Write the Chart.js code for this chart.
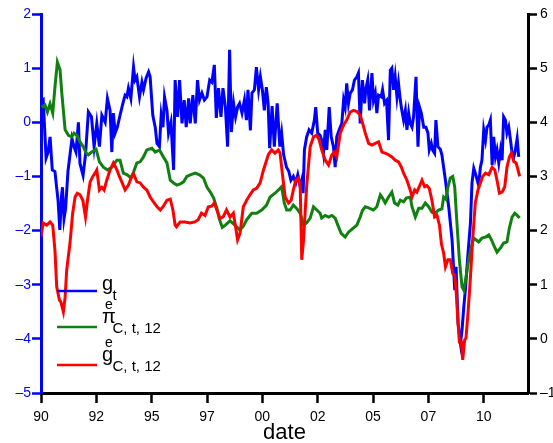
<!DOCTYPE html>
<html>
<head>
<meta charset="utf-8">
<script src="https://cdn.jsdelivr.net/npm/chart.js@4"></script>
<style>
  html, body { margin: 0; padding: 0; background: #fff; }
</style>
</head>
<body>
<canvas id="chart" width="553" height="443"></canvas>
<script>
// tick positions on the date axis (labels are the two-digit year)
const tickYears = [1990, 1992.5, 1995, 1997.5, 2000, 2002.5, 2005, 2007.5, 2010];

// g_t (left axis)
const blueDates = [
  1990.03, 1990.10, 1990.23, 1990.32, 1990.41, 1990.51, 1990.63, 1990.77, 1990.85, 1990.93,
  1990.97, 1991.04, 1991.11, 1991.22, 1991.31, 1991.40, 1991.49, 1991.58, 1991.69, 1991.76,
  1991.90, 1992.01, 1992.14, 1992.28, 1992.40, 1992.52, 1992.64, 1992.75, 1992.90, 1993.00,
  1993.12, 1993.20, 1993.27, 1993.35, 1993.45, 1993.57, 1993.70, 1993.80, 1993.88, 1993.95,
  1994.06, 1994.18, 1994.25, 1994.33, 1994.45, 1994.56, 1994.63, 1994.75, 1994.86, 1994.93,
  1995.05, 1995.16, 1995.24, 1995.35, 1995.43, 1995.51, 1995.58, 1995.69, 1995.76, 1995.87,
  1995.99, 1996.06, 1996.17, 1996.26, 1996.37, 1996.47, 1996.56, 1996.67, 1996.74, 1996.86,
  1996.97, 1997.07, 1997.16, 1997.27, 1997.38, 1997.50, 1997.62, 1997.72, 1997.83, 1997.92,
  1998.02, 1998.13, 1998.22, 1998.33, 1998.43, 1998.52, 1998.60, 1998.70, 1998.79, 1998.88,
  1998.97, 1999.08, 1999.19, 1999.28, 1999.35, 1999.46, 1999.53, 1999.64, 1999.73, 1999.83,
  1999.91, 2000.00, 2000.09, 2000.18, 2000.26, 2000.33, 2000.44, 2000.54, 2000.67, 2000.79,
  2000.87, 2000.96, 2001.09, 2001.19, 2001.29, 2001.40, 2001.51, 2001.60, 2001.71, 2001.78,
  2001.84, 2001.90, 2002.00, 2002.11, 2002.23, 2002.35, 2002.41, 2002.50, 2002.61, 2002.68,
  2002.76, 2002.84, 2002.91, 2003.02, 2003.11, 2003.21, 2003.29, 2003.36, 2003.47, 2003.59,
  2003.67, 2003.74, 2003.81, 2003.89, 2003.97, 2004.07, 2004.16, 2004.27, 2004.34, 2004.42,
  2004.52, 2004.62, 2004.67, 2004.76, 2004.84, 2004.95, 2005.02, 2005.10, 2005.17, 2005.25,
  2005.37, 2005.43, 2005.52, 2005.61, 2005.70, 2005.78, 2005.85, 2005.93, 2006.00, 2006.08,
  2006.15, 2006.23, 2006.30, 2006.38, 2006.46, 2006.53, 2006.61, 2006.68, 2006.76, 2006.83,
  2006.94, 2007.03, 2007.10, 2007.18, 2007.29, 2007.39, 2007.48, 2007.54, 2007.63, 2007.69,
  2007.78, 2007.84, 2007.93, 2008.04, 2008.11, 2008.27, 2008.42, 2008.57, 2008.69, 2008.75,
  2008.84, 2008.95, 2009.02, 2009.10, 2009.17, 2009.29, 2009.40, 2009.47, 2009.55, 2009.62,
  2009.74, 2009.81, 2009.85, 2009.92, 2010.00, 2010.08, 2010.15, 2010.23, 2010.30, 2010.38,
  2010.45, 2010.53, 2010.60, 2010.68, 2010.76, 2010.83, 2010.90, 2010.98, 2011.05, 2011.13,
  2011.21, 2011.28, 2011.36, 2011.43, 2011.51, 2011.58
];
const blueValues = [
  0.38, 0.41, -0.66, -0.55, -0.27, -0.88, -0.91, -1.44, -1.99, -1.35,
  -1.2, -1.78, -1.6, -0.9, -0.6, -0.3, -0.45, -0.55, 0.0, -0.76,
  -0.98, -0.6, 0.19, 0.1, -0.45, -0.02, -0.45, 0.13, 0.0, 0.44,
  0.22, -0.55, 0.17, -0.2, -0.09, 0.13, 0.35, 0.5, 0.47, 0.63,
  0.44, 1.02, 0.78, 0.84, 0.47, 0.74, 0.6, 0.82, 0.93, 0.84,
  0.13, -0.09, -0.39, -0.45, 0.13, -0.09, 0.47, 0.22, -0.2, 0.0,
  -0.88, 0.78, 0.1, 0.78, -0.02, 0.41, -0.09, 0.44, -0.02, 0.5,
  -0.02, 0.78, 0.41, 0.54, 0.41, 0.47, 0.78, 0.74, 1.06, 0.08,
  0.63, 0.1, 0.63, 0.28, -0.45, 1.34, -0.18, 0.35, 0.1, 0.28,
  0.35, 0.17, 0.41, 0.04, 0.6, -0.15, 0.54, 0.6, 1.02, 0.6,
  0.84, 0.6, 0.22, 0.65, 0.35, -0.48, 0.3, -0.45, 0.35, -0.45,
  -0.2, -0.6, -0.83, -0.9, -1.07, -1.0, -1.12, -0.97, -1.19, -1.07,
  -1.31, -0.51, -0.27, -0.14, -0.2, 0.04, 0.28, -0.2, -0.24, -0.33,
  -0.57, -0.14, -0.51, 0.28, -0.27, -0.45, -0.83, -0.27, -0.14, -0.02,
  0.41, 0.28, 0.72, 0.35, 0.54, 0.6, 0.78, 0.84, 0.91, -0.02,
  0.78, 0.35, 0.6, 0.78, 0.22, 0.91, 0.41, 0.54, 0.17, 0.5,
  0.47, 0.6, 0.35, 0.4, -0.33, 0.96, 1.0, 0.6, 0.84, 0.47,
  0.72, 0.41, 0.22, 0.04, 0.22, -0.14, 0.17, -0.02, -0.09, 0.1,
  0.84, -0.45, 0.28, 0.17, -0.09, -0.09, -0.2, -0.51, -0.39, -0.51,
  -0.57, 0.04, -0.45, -0.5, -0.6, -1.07, -1.57, -2.17, -3.1, -2.67,
  -3.71, -4.08, -3.84, -3.41, -3.1, -2.42, -1.86, -1.12, -0.85, -0.94,
  -1.12, -1.0, -0.83, -0.7, -0.14, -0.33, -0.09, -0.05, 0.04, -0.79,
  -0.27, -0.64, -0.51, -0.75, -0.51, -0.7, 0.1, 0.04, -0.2, -0.09,
  -0.33, -0.57, -0.64, -0.51, -0.3, -0.64
];

// pi^e_{C,t,12} (right axis)
const greenDates = [
  1990.03, 1990.18, 1990.29, 1990.41, 1990.53, 1990.63, 1990.74, 1990.86, 1990.94, 1991.09,
  1991.24, 1991.39, 1991.49, 1991.62, 1991.76, 1991.91, 1992.04, 1992.14, 1992.29, 1992.49,
  1992.64, 1992.82, 1993.00, 1993.20, 1993.43, 1993.57, 1993.72, 1993.90, 1994.06, 1994.18,
  1994.33, 1994.48, 1994.63, 1994.78, 1995.01, 1995.16, 1995.35, 1995.53, 1995.69, 1995.84,
  1995.99, 1996.14, 1996.29, 1996.44, 1996.59, 1996.74, 1996.97, 1997.16, 1997.34, 1997.50,
  1997.65, 1997.80, 1997.94, 1998.05, 1998.19, 1998.33, 1998.54, 1998.76, 1998.99, 1999.14,
  1999.29, 1999.52, 1999.74, 1999.97, 2000.19, 2000.35, 2000.57, 2000.80, 2000.87, 2000.99,
  2001.10, 2001.25, 2001.40, 2001.55, 2001.71, 2001.86, 2002.00, 2002.16, 2002.31, 2002.46,
  2002.61, 2002.68, 2002.84, 2002.99, 2003.14, 2003.29, 2003.41, 2003.56, 2003.74, 2003.89,
  2004.12, 2004.27, 2004.42, 2004.52, 2004.65, 2004.80, 2005.02, 2005.17, 2005.33, 2005.43,
  2005.55, 2005.70, 2005.85, 2005.97, 2006.12, 2006.23, 2006.38, 2006.50, 2006.68, 2006.76,
  2006.91, 2007.06, 2007.21, 2007.36, 2007.51, 2007.66, 2007.81, 2007.96, 2008.11, 2008.19,
  2008.29, 2008.38, 2008.49, 2008.60, 2008.69, 2008.79, 2008.90, 2009.02, 2009.10, 2009.20,
  2009.32, 2009.44, 2009.55, 2009.65, 2009.77, 2009.92, 2010.08, 2010.23, 2010.35, 2010.45,
  2010.60, 2010.76, 2010.90, 2011.05, 2011.16, 2011.28, 2011.40, 2011.51, 2011.62
];
const greenValues = [
  4.28, 4.32, 4.19, 4.34, 4.17, 4.65, 5.11, 4.97, 4.54, 3.86,
  3.76, 3.73, 3.8, 3.76, 3.64, 3.55, 3.43, 3.4, 3.45, 3.5,
  3.27, 3.17, 3.12, 3.17, 3.3, 3.3, 3.06, 3.03, 2.97, 3.08,
  3.25, 3.27, 3.36, 3.49, 3.52, 3.45, 3.49, 3.36, 3.25, 2.93,
  2.88, 2.84, 2.86, 2.9, 3.0, 3.03, 3.06, 3.03, 2.97, 2.8,
  2.71, 2.6, 2.42, 2.22, 2.06, 2.1, 2.18, 2.1, 2.01, 2.08,
  2.2, 2.32, 2.32, 2.38, 2.47, 2.62, 2.69, 2.78, 2.81, 2.51,
  2.38, 2.38, 2.47, 2.41, 2.32, 2.1, 2.14, 2.23, 2.44, 2.38,
  2.32, 2.23, 2.28, 2.25, 2.28, 2.23, 2.1, 1.95, 1.88, 1.97,
  2.05, 2.1, 2.25, 2.37, 2.44, 2.42, 2.38, 2.44, 2.66, 2.6,
  2.51, 2.62, 2.71, 2.51, 2.47, 2.56, 2.53, 2.6, 2.62, 2.44,
  2.25, 2.41, 2.41, 2.51, 2.44, 2.34, 2.32, 2.38, 2.4, 2.62,
  2.58, 2.8, 2.97, 3.0, 2.8, 2.14, 1.46, 0.96, 0.9, 1.14,
  1.46, 1.7, 1.86, 1.83, 1.79, 1.86, 1.88, 1.92, 1.83, 1.73,
  1.6, 1.68, 1.77, 1.79, 2.05, 2.25, 2.32, 2.28, 2.23
];

// g^e_{C,t,12} (right axis)
const redDates = [
  1990.00, 1990.10, 1990.26, 1990.41, 1990.53, 1990.63, 1990.71, 1990.83, 1990.90, 1991.01,
  1991.09, 1991.16, 1991.31, 1991.43, 1991.54, 1991.64, 1991.76, 1991.89, 1992.01, 1992.10,
  1992.22, 1992.34, 1992.44, 1992.52, 1992.64, 1992.75, 1992.85, 1992.97, 1993.12, 1993.27,
  1993.43, 1993.54, 1993.65, 1993.80, 1993.95, 1994.07, 1994.18, 1994.33, 1994.48, 1994.63,
  1994.78, 1994.93, 1995.08, 1995.24, 1995.39, 1995.53, 1995.69, 1995.84, 1995.96, 1996.06,
  1996.12, 1996.29, 1996.50, 1996.73, 1996.95, 1997.10, 1997.25, 1997.41, 1997.56, 1997.71,
  1997.83, 1997.93, 1998.09, 1998.24, 1998.38, 1998.54, 1998.69, 1998.79, 1998.88, 1998.99,
  1999.14, 1999.29, 1999.44, 1999.59, 1999.74, 1999.90, 2000.05, 2000.19, 2000.27, 2000.42,
  2000.57, 2000.72, 2000.80, 2000.90, 2001.03, 2001.18, 2001.30, 2001.40, 2001.51, 2001.63,
  2001.71, 2001.78, 2001.86, 2002.00, 2002.16, 2002.31, 2002.46, 2002.57, 2002.68, 2002.84,
  2002.99, 2003.14, 2003.26, 2003.36, 2003.52, 2003.67, 2003.81, 2003.97, 2004.12, 2004.27,
  2004.42, 2004.49, 2004.65, 2004.80, 2004.95, 2005.10, 2005.25, 2005.40, 2005.55, 2005.70,
  2005.85, 2006.00, 2006.15, 2006.28, 2006.38, 2006.53, 2006.68, 2006.76, 2006.88, 2006.98,
  2007.09, 2007.21, 2007.33, 2007.43, 2007.54, 2007.66, 2007.78, 2007.89, 2008.00, 2008.09,
  2008.19, 2008.27, 2008.38, 2008.49, 2008.60, 2008.69, 2008.75, 2008.84, 2008.90, 2008.99,
  2009.05, 2009.14, 2009.20, 2009.29, 2009.40, 2009.50, 2009.62, 2009.74, 2009.85, 2009.95,
  2010.08, 2010.23, 2010.38, 2010.50, 2010.60, 2010.71, 2010.83, 2010.95, 2011.05, 2011.16,
  2011.25, 2011.36, 2011.46, 2011.55, 2011.62
];
const redValues = [
  1.89, 2.14, 2.1, 2.16, 2.1, 1.64, 0.96, 0.72, 0.68, 0.5,
  0.77, 1.27, 1.77, 2.32, 2.62, 2.69, 2.66, 2.56, 2.25, 2.56,
  2.9, 3.0, 3.06, 3.12, 2.75, 2.8, 2.75, 2.93, 3.12, 3.25,
  3.12, 3.0, 2.9, 2.75, 2.84, 2.97, 3.05, 2.9, 2.88, 2.8,
  2.75, 2.62, 2.53, 2.44, 2.38, 2.45, 2.56, 2.58, 2.38, 2.1,
  2.07, 2.16, 2.16, 2.14, 2.16, 2.2, 2.32, 2.28, 2.44, 2.45,
  2.51, 2.4, 2.22, 2.26, 2.38, 2.25, 2.32, 2.07, 1.83, 1.95,
  2.44, 2.56, 2.66, 2.75, 2.78, 2.88, 3.12, 3.3, 3.4, 3.49,
  3.43, 3.49, 3.43, 3.06, 2.62, 2.51, 2.56, 2.75, 2.93, 2.97,
  2.81, 1.46, 1.83, 2.81, 3.55, 3.73, 3.76, 3.67, 3.49, 3.3,
  3.21, 3.4, 3.45, 3.36, 3.8, 3.95, 4.04, 4.19, 4.22, 4.2,
  4.13, 4.04, 3.8, 3.61, 3.58, 3.61, 3.64, 3.45, 3.43, 3.4,
  3.36, 3.3, 3.27, 3.17, 3.06, 2.93, 2.75, 2.62, 2.75, 2.71,
  2.81, 2.93, 2.81, 2.83, 2.78, 2.56, 2.25, 2.28, 2.1, 1.75,
  1.58, 1.33, 1.46, 1.46, 1.21, 1.18, 0.9, 0.29, -0.06, -0.06,
  -0.39, -0.02, 0.02, 0.48, 1.14, 1.83, 2.51, 2.75, 2.88, 3.0,
  3.06, 3.03, 3.17, 3.12, 2.93, 2.69, 2.71, 2.81, 3.17, 3.36,
  3.43, 3.27, 3.25, 3.12, 3.0
];

const BLUE = '#0000ff';
const GREEN = '#108010';
const RED = '#ff0000';
const FONT = '"Liberation Sans", Arial, Helvetica, sans-serif';

function pairs(xs, ys) {
  return xs.map((x, i) => ({ x: x, y: ys[i] }));
}

function dashMinus(v) {
  return v < 0 ? '\u2013' + Math.abs(v) : String(v);
}

// legend with sub/superscripts, drawn inside the plot at lower left
const mathLegend = {
  id: 'mathLegend',
  afterDraw(chart) {
    const ctx = chart.ctx;
    const items = [
      { color: BLUE, line: 291, base: 'g', baseY: 290, sup: '', supY: 0, sub: 't', subY: 300 },
      { color: GREEN, line: 327, base: '\u03c0', baseY: 323, sup: 'e', supY: 309, sub: 'C, t, 12', subY: 333 },
      { color: RED, line: 365, base: 'g', baseY: 361, sup: 'e', supY: 347, sub: 'C, t, 12', subY: 370.5 }
    ];
    ctx.save();
    ctx.fillStyle = '#000';
    ctx.textBaseline = 'alphabetic';
    ctx.textAlign = 'left';
    items.forEach(it => {
      ctx.strokeStyle = it.color;
      ctx.lineWidth = 2.5;
      ctx.beginPath();
      ctx.moveTo(57, it.line);
      ctx.lineTo(97, it.line);
      ctx.stroke();
      ctx.font = '20px ' + FONT;
      ctx.fillText(it.base, 102, it.baseY);
      ctx.font = '14px ' + FONT;
      if (it.sup) ctx.fillText(it.sup, 105, it.supY);
      ctx.font = '15px ' + FONT;
      ctx.fillText(it.sub, 112.5, it.subY);
    });
    ctx.restore();
  }
};

new Chart(document.getElementById('chart'), {
  type: 'line',
  data: {
    datasets: [
      {
        label: 'g_t',
        data: pairs(blueDates, blueValues),
        yAxisID: 'y',
        borderColor: BLUE,
        borderWidth: 3,
        order: 3
      },
      {
        label: 'pi^e_C,t,12',
        data: pairs(greenDates, greenValues),
        yAxisID: 'y2',
        borderColor: GREEN,
        borderWidth: 3,
        order: 2
      },
      {
        label: 'g^e_C,t,12',
        data: pairs(redDates, redValues),
        yAxisID: 'y2',
        borderColor: RED,
        borderWidth: 3,
        order: 1
      }
    ]
  },
  options: {
    responsive: false,
    animation: false,
    layout: { padding: { top: 14, left: 0, right: 0, bottom: 0 } },
    elements: {
      point: { radius: 0 },
      line: { tension: 0, fill: false }
    },
    plugins: {
      legend: { display: false },
      tooltip: { enabled: false }
    },
    scales: {
      x: {
        type: 'linear',
        position: 'bottom',
        min: 1990,
        max: 2012,
        afterBuildTicks: s => { s.ticks = tickYears.map(v => ({ value: v })); },
        afterFit: s => { s.height = 50; },
        ticks: {
          color: '#000',
          font: { family: FONT, size: 14 },
          padding: 6,
          maxRotation: 0,
          callback: v => String(Math.floor(v)).slice(2)
        },
        grid: {
          drawOnChartArea: false,
          drawTicks: true,
          tickLength: 10,
          tickWidth: 2.5,
          tickColor: '#000'
        },
        border: { color: '#000', width: 3 },
        title: {
          display: true,
          text: 'date',
          color: '#000',
          font: { family: FONT, size: 22, lineHeight: 1 },
          padding: { top: 0, bottom: -1 }
        }
      },
      y: {
        position: 'left',
        min: -5,
        max: 2,
        afterFit: s => { s.width = 41; },
        ticks: {
          stepSize: 1,
          color: BLUE,
          font: { family: FONT, size: 14 },
          padding: 1,
          callback: dashMinus
        },
        grid: {
          drawOnChartArea: false,
          drawTicks: true,
          tickLength: 9,
          tickWidth: 2.5,
          tickColor: BLUE
        },
        border: { color: BLUE, width: 3 }
      },
      y2: {
        position: 'right',
        min: -1,
        max: 6,
        afterFit: s => { s.width = 25; },
        ticks: {
          stepSize: 1,
          color: '#000',
          font: { family: FONT, size: 14 },
          padding: 3,
          callback: dashMinus
        },
        grid: {
          drawOnChartArea: false,
          drawTicks: true,
          tickLength: 9,
          tickWidth: 2.5,
          tickColor: '#000'
        },
        border: { color: '#000', width: 3 }
      }
    }
  },
  plugins: [mathLegend]
});
</script>
</body>
</html>
